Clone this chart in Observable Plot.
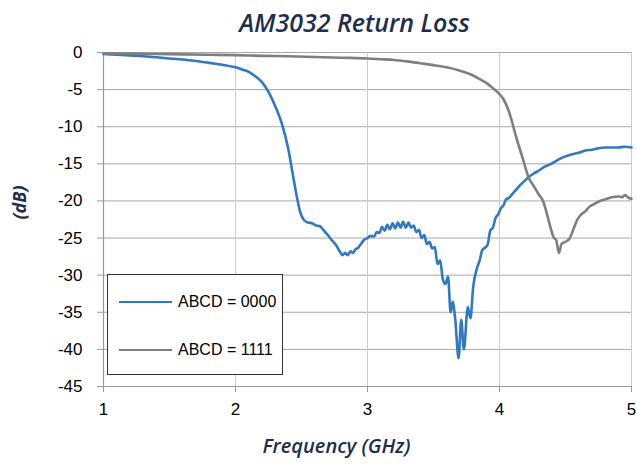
<!DOCTYPE html>
<html>
<head>
<meta charset="utf-8">
<script src="https://cdn.jsdelivr.net/npm/d3@7"></script>
<script src="https://cdn.jsdelivr.net/npm/@observablehq/plot@0.6"></script>
<style>
  html, body { margin: 0; padding: 0; background: #fff; }
  #wrap { position: relative; width: 636px; height: 464px; }
  #legend { position: absolute; left: 107px; top: 274px; width: 174px; height: 99px;
    border: 1px solid #333; background: #fff; font-family: "Liberation Sans", Arial, sans-serif; font-size: 16px; color: #000; }
  .row { position: absolute; left: 0; height: 20px; display: flex; align-items: center; }
  .sw { width: 53px; height: 0; margin-left: 11px; margin-right: 6px; }
</style>
</head>
<body>
<div id="wrap"></div>
<script>
// Frequency (GHz) and return loss (dB) for ABCD = 0000
const freq0000 = [1.0,1.1,1.2,1.3,1.4,1.5,1.6,1.7,1.8,1.9,2.0,2.05,2.1,2.15,2.2,2.25,2.3,2.35,2.4,2.43,2.46,2.49,2.52,2.55,2.58,2.61,2.64,2.67,2.70,2.73,2.76,2.79,2.81,2.83,2.85,2.87,2.89,2.91,2.93,2.95,2.97,3.00,3.02,3.05,3.07,3.09,3.11,3.13,3.15,3.17,3.19,3.21,3.23,3.25,3.27,3.29,3.31,3.33,3.35,3.37,3.39,3.41,3.43,3.45,3.47,3.49,3.51,3.53,3.55,3.57,3.59,3.61,3.63,3.645,3.665,3.69,3.71,3.73,3.76,3.78,3.80,3.83,3.85,3.87,3.89,3.91,3.93,3.95,3.97,3.99,4.01,4.03,4.05,4.07,4.10,4.13,4.16,4.19,4.22,4.26,4.30,4.34,4.38,4.42,4.46,4.50,4.55,4.60,4.65,4.70,4.75,4.80,4.85,4.90,4.95,5.00];
const rl0000 = [-0.2,-0.3,-0.4,-0.5,-0.65,-0.8,-0.95,-1.15,-1.4,-1.65,-2.0,-2.3,-2.6,-3.2,-4.0,-5.3,-7.2,-9.5,-13.0,-16.0,-19.0,-21.5,-22.6,-22.9,-23.0,-23.3,-23.4,-24.0,-24.6,-25.3,-25.9,-26.8,-27.3,-27.0,-27.3,-26.8,-27.0,-26.5,-26.3,-25.8,-25.3,-25.0,-24.7,-24.8,-24.2,-24.3,-23.5,-24.0,-23.2,-23.8,-23.0,-23.7,-22.9,-23.6,-22.8,-23.6,-22.9,-23.6,-23.3,-24.2,-23.9,-25.0,-24.6,-25.8,-25.5,-26.4,-26.2,-28.5,-28.0,-30.5,-31.2,-30.2,-35.0,-33.6,-36.0,-41.2,-36.0,-40.0,-34.3,-35.8,-31.7,-29.0,-28.0,-26.6,-26.3,-25.9,-24.0,-23.6,-22.3,-21.8,-21.0,-20.6,-19.8,-19.6,-19.0,-18.4,-17.8,-17.3,-16.8,-16.3,-15.9,-15.4,-15.1,-14.7,-14.3,-14.0,-13.7,-13.5,-13.2,-13.1,-12.9,-12.8,-12.8,-12.8,-12.7,-12.8];

// Frequency (GHz) and return loss (dB) for ABCD = 1111
const freq1111 = [1.0,1.2,1.4,1.6,1.8,2.0,2.2,2.4,2.6,2.8,3.0,3.1,3.2,3.3,3.4,3.5,3.6,3.7,3.8,3.85,3.9,3.95,4.0,4.03,4.06,4.09,4.12,4.15,4.18,4.22,4.26,4.30,4.33,4.36,4.39,4.41,4.43,4.45,4.47,4.50,4.53,4.56,4.59,4.62,4.65,4.68,4.72,4.76,4.80,4.85,4.90,4.93,4.95,4.98,5.00];
const rl1111 = [-0.1,-0.15,-0.2,-0.25,-0.3,-0.35,-0.45,-0.5,-0.6,-0.7,-0.8,-0.9,-1.0,-1.2,-1.45,-1.7,-2.0,-2.45,-3.1,-3.6,-4.1,-4.8,-5.6,-6.3,-7.4,-9.0,-11.0,-12.8,-14.5,-16.8,-18.0,-19.2,-20.0,-21.8,-23.8,-24.9,-25.3,-27.0,-25.8,-25.5,-25.1,-23.8,-22.5,-21.8,-21.4,-20.8,-20.4,-20.0,-19.8,-19.5,-19.4,-19.5,-19.2,-19.6,-19.7];

const seriesNames = ["ABCD = 0000", "ABCD = 1111"];
const seriesColors = ["#2f78c4", "#7f7f7f"];
const xTicks = [1, 2, 3, 4, 5];
const yTicks = [0, -5, -10, -15, -20, -25, -30, -35, -40, -45];
const titleText = "AM3032 Return Loss";
const xLabel = "Frequency (GHz)";
const yLabel = "(dB)";

const data = [
  ...freq0000.map((f, i) => ({f, v: rl0000[i], s: seriesNames[0]})),
  ...freq1111.map((f, i) => ({f, v: rl1111[i], s: seriesNames[1]}))
];

const navy = "#1f2e4d";
const chart = Plot.plot({
  width: 636,
  height: 464,
  marginLeft: 103,
  marginRight: 5,
  marginTop: 52,
  marginBottom: 78,
  style: {fontFamily: "'Liberation Sans', Arial, sans-serif", fontSize: "16px", color: "#000", background: "#fff"},
  x: {domain: [1, 5], ticks: xTicks, tickFormat: d => String(d)},
  y: {domain: [-45, 0], ticks: yTicks, tickFormat: d => String(d)},
  color: {domain: seriesNames, range: seriesColors},
  marks: [
    Plot.gridY(yTicks, {stroke: "#a8a8a8", strokeOpacity: 1, strokeWidth: 1}),
    Plot.gridX(xTicks, {stroke: "#cccccc", strokeOpacity: 1, strokeWidth: 1}),
    Plot.ruleX([1], {stroke: "#9a9a9a", strokeWidth: 1.2}),
    Plot.ruleY([-45], {stroke: "#9a9a9a", strokeWidth: 1.2}),
    Plot.axisX(xTicks, {tickSize: 6, tickPadding: 10, stroke: "#9a9a9a", label: null, fill: "#000", fontSize: 17, tickFormat: d => String(d)}),
    Plot.axisY(yTicks, {tickSize: 6, tickPadding: 15, stroke: "#9a9a9a", label: null, fill: "#000", fontSize: 17, tickFormat: d => String(d)}),
    Plot.line(data, {x: "f", y: "v", z: "s", stroke: "s", strokeWidth: 2.6, curve: "monotone-x"}),
    Plot.text([titleText], {frameAnchor: "top", dx: -13, dy: -38, fontSize: 25, fontStyle: "italic", fontWeight: 600, fill: navy, fontFamily: "'Open Sans', sans-serif", letterSpacing: "1.9px"}),
    Plot.text([xLabel], {frameAnchor: "bottom", dx: -31, dy: 66, fontSize: 20, fontStyle: "italic", fontWeight: 600, fill: navy, fontFamily: "'Open Sans', sans-serif", letterSpacing: "1.4px"}),
    Plot.text([yLabel], {frameAnchor: "left", dx: -83, rotate: -90, fontSize: 18, fontStyle: "italic", fontWeight: 700, fill: navy, fontFamily: "'Open Sans', sans-serif"})
  ]
});

const wrap = document.getElementById("wrap");
wrap.appendChild(chart);

const legend = document.createElement("div");
legend.id = "legend";
const rowTops = [17, 65];
seriesNames.forEach((name, i) => {
  const row = document.createElement("div");
  row.className = "row";
  row.style.top = rowTops[i] + "px";
  const sw = document.createElement("div");
  sw.className = "sw";
  sw.style.borderTop = "2.6px solid " + seriesColors[i];
  const t = document.createElement("span");
  t.textContent = name;
  row.appendChild(sw);
  row.appendChild(t);
  legend.appendChild(row);
});
wrap.appendChild(legend);
</script>
</body>
</html>
